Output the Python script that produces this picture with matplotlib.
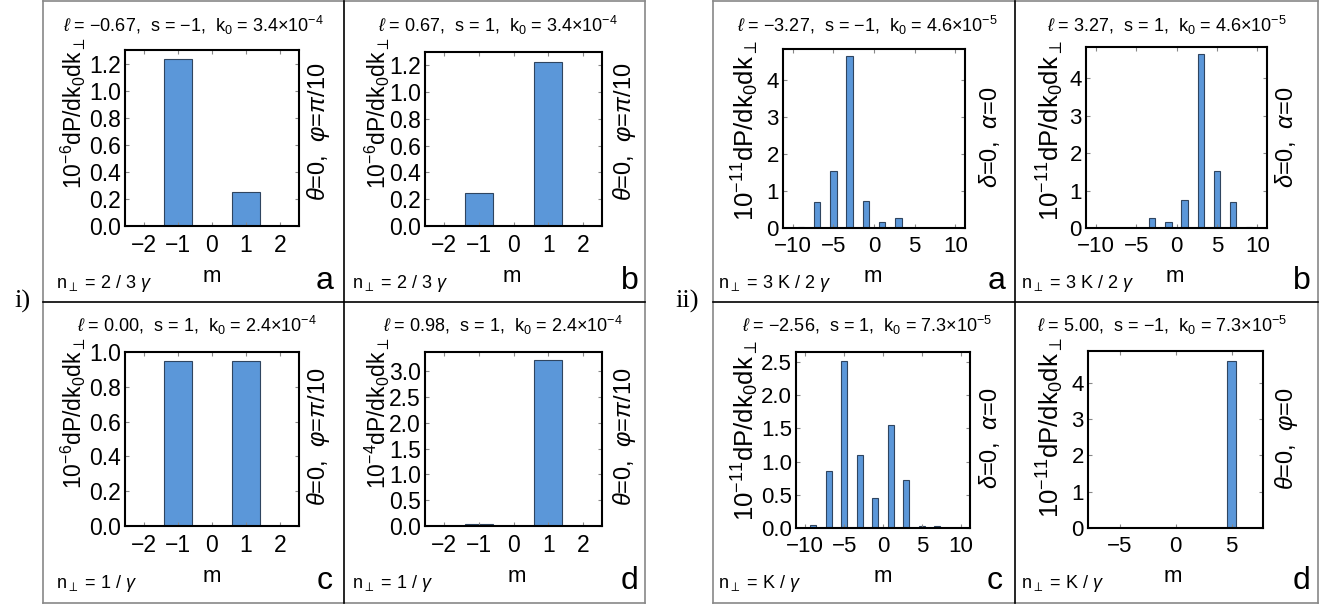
import matplotlib
matplotlib.use("Agg")
import matplotlib.pyplot as plt
from matplotlib.lines import Line2D
from matplotlib.ticker import FormatStrFormatter, MultipleLocator

plt.rcParams['font.family'] = ['Liberation Sans', 'DejaVu Sans']
plt.rcParams['mathtext.fontset'] = 'custom'
plt.rcParams['mathtext.rm'] = 'Liberation Sans'
plt.rcParams['mathtext.it'] = 'Liberation Sans:italic'
plt.rcParams['mathtext.bf'] = 'Liberation Sans:bold'

# data
m_small = [-2, -1, 0, 1, 2]
power_i_a = [0, 1.23, 0, 0.25, 0]
power_i_b = [0, 0.245, 0, 1.225, 0]
power_i_c = [0, 0.95, 0, 0.95, 0]
power_i_d = [0, 0.03, 0, 3.21, 0]

m_wide = [-9, -7, -5, -3, -1, 1, 3, 5, 7, 9]
power_ii_a = [0.03, 0.70, 1.53, 4.65, 0.74, 0.15, 0.28, 0, 0, 0]
power_ii_b = [0, 0, 0, 0.28, 0.15, 0.74, 4.65, 1.53, 0.70, 0.03]
power_ii_c = [0.05, 0.865, 2.515, 1.095, 0.455, 1.545, 0.725, 0.035, 0.035, 0]
m_mid = [-7, -5, -3, -1, 1, 3, 5, 7]
power_ii_d = [0, 0, 0, 0, 0, 0, 4.60, 0]

titles_i = [r"$\ell$ = $-$0.67,  s = $-$1,  k$_{0}$ = 3.4$\times$10$^{-4}$",
            r"$\ell$ = 0.67,  s = 1,  k$_{0}$ = 3.4$\times$10$^{-4}$",
            r"$\ell$ = 0.00,  s = 1,  k$_{0}$ = 2.4$\times$10$^{-4}$",
            r"$\ell$ = 0.98,  s = 1,  k$_{0}$ = 2.4$\times$10$^{-4}$"]
titles_ii = [r"$\ell$ = $-$3.27,  s = $-$1,  k$_{0}$ = 4.6$\times$10$^{-5}$",
             r"$\ell$ = 3.27,  s = 1,  k$_{0}$ = 4.6$\times$10$^{-5}$",
             r"$\ell$ = $-$2.56,  s = 1,  k$_{0}$ = 7.3$\times$10$^{-5}$",
             r"$\ell$ = 5.00,  s = $-$1,  k$_{0}$ = 7.3$\times$10$^{-5}$"]

W, H = 1336, 605
BAR = "#5b97d9"
EDGE = "#2f4560"

fig = plt.figure(figsize=(W / 100, H / 100), dpi=100)


def fx(x):
    return x / W


def fy(y):
    return 1 - y / H


def line(x0, y0, x1, y1, color, lw=1.2):
    fig.add_artist(Line2D([fx(x0), fx(x1)], [fy(y0), fy(y1)],
                          transform=fig.transFigure, color=color, lw=lw))


def panel(box, m, vals, xlim, ylim, ystep, yfmt, xticks, fs):
    x0, y0, x1, y1 = box
    ax = fig.add_axes([fx(x0), fy(y1), (x1 - x0) / W, (y1 - y0) / H])
    ax.bar(m, vals, width=0.8, color=BAR, edgecolor=EDGE, linewidth=0.8)
    ax.set_xlim(xlim)
    ax.set_ylim(0, ylim)
    ax.set_xticks(xticks)
    ax.yaxis.set_major_locator(MultipleLocator(ystep))
    ax.yaxis.set_major_formatter(FormatStrFormatter(yfmt))
    ax.tick_params(labelsize=fs, direction='in', length=3, color='#888888',
                   top=True, right=True, pad=3)
    ax.tick_params(axis='x', pad=6)
    for s in ax.spines.values():
        s.set_linewidth(1.5)
    return ax


def labels(cx, ylab_x, ylab_y, rlab_x, rlab_y, top, title, ylab, rlab,
           nlab, n_x, m_x, letter_x, letter, fs):
    fig.text(fx(cx), fy(top + 25), title, fontsize=13, ha='center', va='center')
    fig.text(fx(ylab_x), fy(top + ylab_y), ylab, fontsize=fs, rotation=90,
             ha='center', va='center')
    fig.text(fx(rlab_x), fy(top + rlab_y), rlab, fontsize=17, rotation=90,
             ha='center', va='center')
    fig.text(fx(n_x), fy(top + 283), nlab, fontsize=13, ha='left', va='center')
    fig.text(fx(m_x), fy(top + 277), "m", fontsize=16, ha='center', va='center')
    fig.text(fx(letter_x), fy(top + 281), letter, fontsize=23, ha='center', va='center')


lab_i = r"$\theta$=0,  $\varphi$=$\pi$/10"
lab_ab = r"$\delta$=0,  $\alpha$=0"
lab_d = r"$\theta$=0,  $\varphi$=0"
ylab6 = r"10$^{-6}$dP/dk$_0$dk$_\perp$"
ylab4 = r"10$^{-4}$dP/dk$_0$dk$_\perp$"
ylab11 = r"10$^{-11}$dP/dk$_0$dk$_\perp$"

# group i)
panel((125, 50, 299, 226), m_small, power_i_a, (-2.55, 2.55), 1.30, 0.2, '%.1f', m_small, 16.5)
panel((425, 52, 602, 226), m_small, power_i_b, (-2.55, 2.55), 1.30, 0.2, '%.1f', m_small, 16.5)
panel((125, 352, 299, 526), m_small, power_i_c, (-2.55, 2.55), 1.0, 0.2, '%.1f', m_small, 16.5)
panel((425, 352, 602, 526), m_small, power_i_d, (-2.55, 2.55), 3.37, 0.5, '%.1f', m_small, 16.5)

labels(193, 73, 113, 319, 132, 0, titles_i[0], ylab6, lab_i,
       r"n$_\perp$ = 2 / 3 $\gamma$", 56, 212, 325, "a", 16.5)
labels(498, 377, 113, 625, 132, 0, titles_i[1], ylab6, lab_i,
       r"n$_\perp$ = 2 / 3 $\gamma$", 352, 512, 630, "b", 16.5)
labels(197, 73, 113, 319, 137, 300, titles_i[2], ylab6, lab_i,
       r"n$_\perp$ = 1 / $\gamma$", 56, 212, 325, "c", 16.5)
labels(503, 377, 113, 625, 137, 300, titles_i[3], ylab4, lab_i,
       r"n$_\perp$ = 1 / $\gamma$", 352, 517, 630, "d", 16.5)

# group ii)
ticks10 = [-10, -5, 0, 5, 10]
panel((783, 49, 965, 228), m_wide, power_ii_a, (-11.2, 11.2), 4.83, 1, '%d', ticks10, 16)
panel((1086, 47, 1267, 228), m_wide, power_ii_b, (-11.2, 11.2), 4.83, 1, '%d', ticks10, 16)
panel((796, 352, 970, 528), m_wide, power_ii_c, (-11.2, 11.2), 2.65, 0.5, '%.1f', ticks10, 16)
panel((1088, 351, 1263, 528), m_mid, power_ii_d, (-7.85, 7.8), 4.87, 1, '%d', [-5, 0, 5], 16)

labels(867, 745, 131, 990, 137, 0, titles_ii[0], ylab11, lab_ab,
       r"n$_\perp$ = 3 K / 2 $\gamma$", 718, 873, 997, "a", 18.5)
labels(1167, 1050, 131, 1286, 137, 0, titles_ii[1], ylab11, lab_ab,
       r"n$_\perp$ = 3 K / 2 $\gamma$", 1021, 1175, 1302, "b", 18.5)
labels(867, 745, 131, 990, 138, 300, titles_ii[2], ylab11, lab_ab,
       r"n$_\perp$ = K / $\gamma$", 718, 883, 995, "c", 18.5)
labels(1162, 1050, 128, 1286, 139, 300, titles_ii[3], ylab11, lab_d,
       r"n$_\perp$ = K / $\gamma$", 1021, 1173, 1302, "d", 18.5)

# frames
for (xa, xm, xb) in [(43, 344, 645), (713, 1015, 1318)]:
    line(xa, 1, xb, 1, '#888888')
    line(xa, 603, xb, 603, '#888888')
    line(xa, 1, xa, 603, '#888888')
    line(xb, 1, xb, 603, '#888888')
    line(xm, 1, xm, 603, 'black')
    line(xa, 302, xb, 302, 'black')

fig.text(fx(22), fy(301), "i)", fontsize=19, family='Liberation Serif', ha='center', va='center')
fig.text(fx(687), fy(301), "ii)", fontsize=19, family='Liberation Serif', ha='center', va='center')

fig.savefig("out.png", dpi=100)
